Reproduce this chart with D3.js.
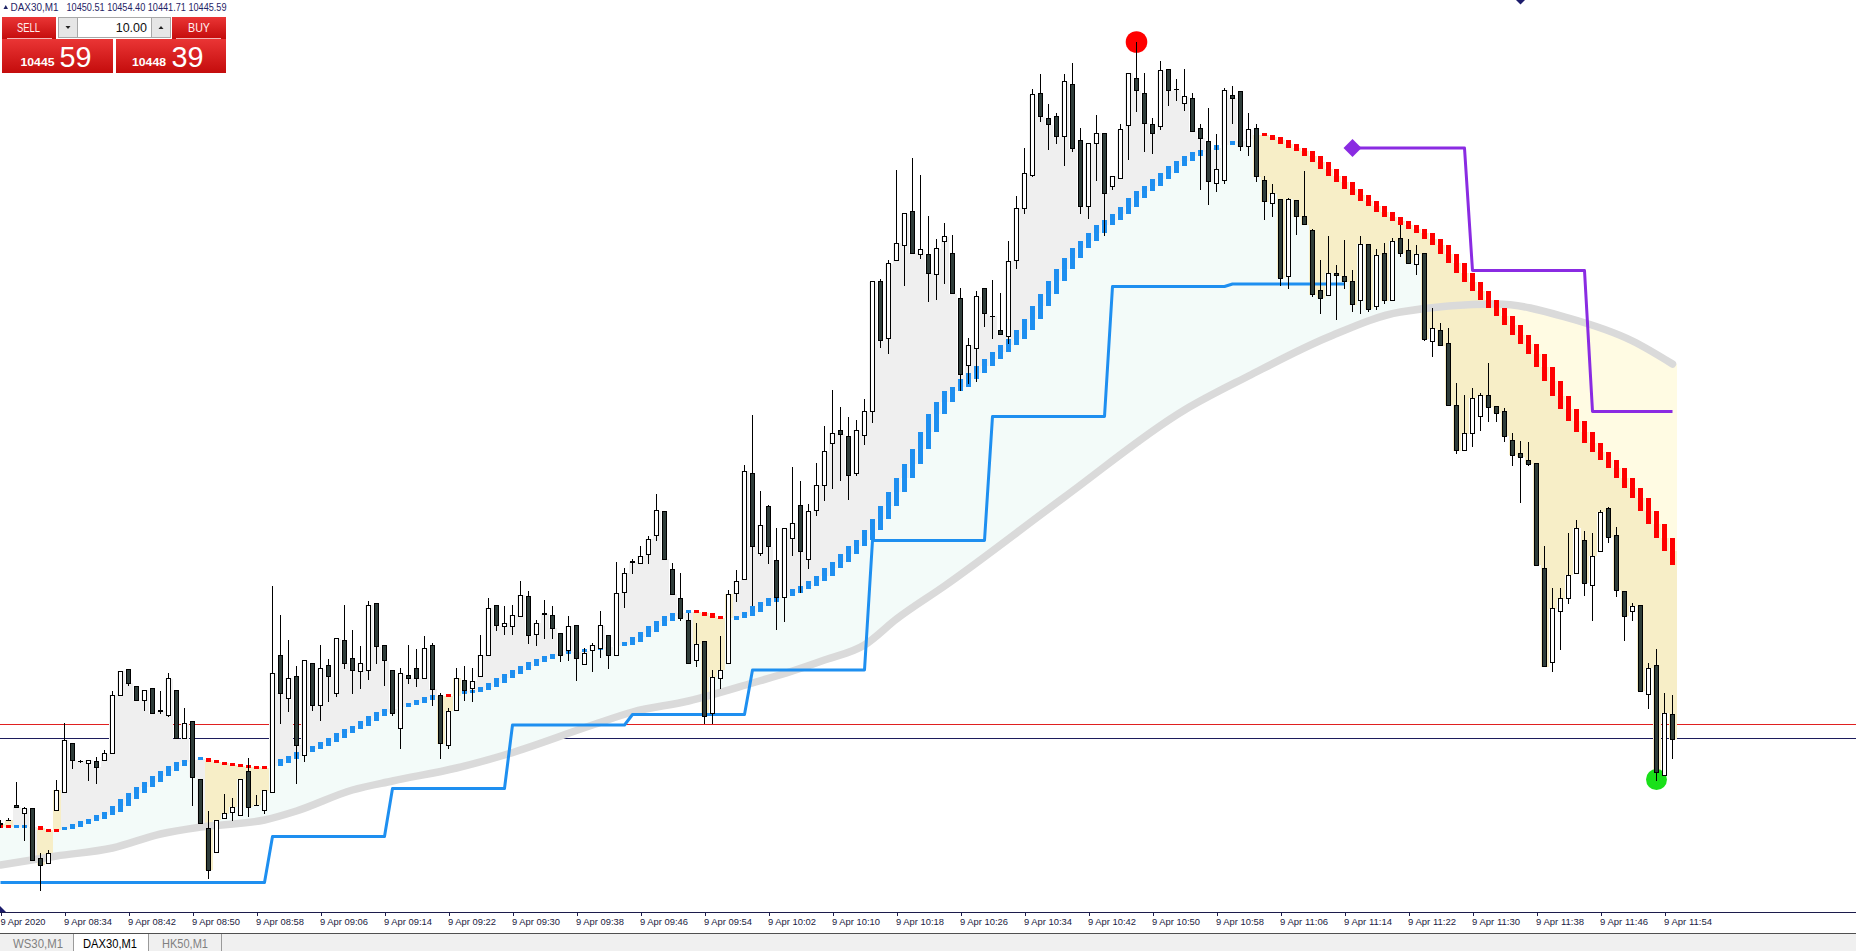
<!DOCTYPE html>
<html><head><meta charset="utf-8">
<script src="https://cdn.jsdelivr.net/npm/d3@7"></script>
<style>
html,body{margin:0;padding:0;background:#fff;overflow:hidden}
svg{display:block}
text{font-family:"Liberation Sans",Arial,sans-serif}
</style></head><body>
<svg id="c" width="1856" height="951"></svg>
<script>
// ---------------- DATA ----------------
const symbol = "DAX30,M1";
const startTime = "2020-04-09T08:26:00";
const bidPrice = 10445.59, askPrice = 10448.39;
const lotSize = "10.00";
const tabs = ["WS30,M1", "DAX30,M1", "HK50,M1"];
const tickTimes = ["08:26","08:34","08:42","08:50","08:58","09:06","09:14","09:22","09:30","09:38","09:46","09:54","10:02","10:10","10:18","10:26","10:34","10:42","10:50","10:58","11:06","11:14","11:22","11:30","11:38","11:46","11:54"];
const tickLabels = ["9 Apr 2020","9 Apr 08:34","9 Apr 08:42","9 Apr 08:50","9 Apr 08:58","9 Apr 09:06","9 Apr 09:14","9 Apr 09:22","9 Apr 09:30","9 Apr 09:38","9 Apr 09:46","9 Apr 09:54","9 Apr 10:02","9 Apr 10:10","9 Apr 10:18","9 Apr 10:26","9 Apr 10:34","9 Apr 10:42","9 Apr 10:50","9 Apr 10:58","9 Apr 11:06","9 Apr 11:14","9 Apr 11:22","9 Apr 11:30","9 Apr 11:38","9 Apr 11:46","9 Apr 11:54"];

const open = [
10428.8,10429.3,10432.3,10430.6,10431.6,10421.6,10420.6,10431.4,10435.0,10444.8,
10441.1,10440.8,10441.0,10441.4,10442.8,10454.2,10459.5,10456.1,10453.2,10455.7,
10451.2,10450.3,10455.3,10445.8,10449.0,10437.5,10427.8,10423.0,10429.6,10431.0,
10430.3,10439.1,10432.4,10431.4,10435.0,10462.4,10453.6,10458.0,10442.3,10460.6,
10452.4,10460.2,10454.8,10465.4,10461.8,10459.0,10459.4,10472.8,10464.3,10459.4,
10447.6,10458.4,10459.6,10457.6,10464.3,10454.3,10444.4,10451.4,10457.4,10455.6,
10458.0,10462.4,10472.2,10468.0,10468.1,10470.1,10474.1,10466.5,10470.6,10470.3,
10466.8,10463.4,10468.3,10460.5,10463.3,10463.6,10466.2,10462.4,10474.9,10480.9,
10480.8,10482.5,10486.2,10491.0,10479.5,10473.8,10469.2,10461.3,10465.1,10450.8,
10457.6,10460.6,10474.7,10477.5,10498.7,10482.6,10492.1,10481.3,10473.9,10485.8,
10492.3,10481.5,10491.2,10496.2,10504.8,10507.2,10506.1,10498.6,10506.2,10511.0,
10537.0,10525.8,10541.3,10544.2,10551.0,10542.5,10542.4,10538.4,10545.0,10542.8,
10533.6,10520.2,10523.6,10535.8,10530.1,10527.3,10526.0,10541.2,10551.8,10558.3,
10574.8,10569.6,10570.1,10566.0,10576.5,10565.3,10552.0,10564.6,10566.8,10556.0,
10557.8,10568.2,10577.6,10574.8,10568.4,10568.0,10579.4,10575.5,10572.8,10573.8,
10567.6,10565.0,10556.6,10557.3,10574.3,10575.1,10564.1,10567.6,10557.3,10552.6,
10553.4,10538.0,10553.3,10550.1,10547.3,10535.3,10534.2,10538.6,10538.1,10537.1,
10533.2,10544.4,10532.0,10542.6,10533.2,10545.6,10543.3,10540.4,10542.6,10525.0,
10527.3,10524.8,10512.3,10503.4,10506.7,10510.0,10514.2,10512.1,10511.0,10505.2,
10502.6,10501.4,10500.7,10479.8,10460.9,10471.0,10473.6,10478.6,10485.2,10476.3,
10483.0,10491.6,10486.3,10475.0,10471.0,10472.4,10454.5,10460.3,10438.3,10450.51];
const high = [
10429.4,10429.6,10437.0,10432.0,10431.6,10422.6,10423.3,10437.3,10448.6,10444.8,
10441.3,10441.4,10442.0,10443.4,10455.1,10459.1,10459.5,10456.1,10455.3,10455.7,
10455.1,10458.8,10455.3,10451.8,10449.0,10437.5,10431.1,10429.4,10434.5,10433.6,
10437.5,10441.6,10434.3,10435.4,10476.1,10470.3,10465.3,10460.0,10461.2,10460.6,
10464.3,10461.5,10465.6,10472.3,10467.3,10464.1,10473.1,10472.8,10464.3,10459.4,
10459.8,10464.3,10463.5,10466.1,10464.6,10454.6,10451.8,10459.6,10460.0,10459.6,
10466.3,10473.6,10472.2,10472.1,10472.3,10477.1,10475.1,10469.4,10473.4,10472.1,
10466.8,10470.1,10468.4,10463.8,10464.6,10471.0,10466.2,10480.9,10479.7,10481.5,
10484.0,10486.0,10494.5,10491.0,10480.8,10478.6,10470.8,10468.6,10465.1,10459.3,
10466.0,10475.4,10479.2,10500.3,10510.4,10495.1,10492.3,10487.7,10487.6,10499.9,
10497.1,10492.5,10500.6,10508.0,10515.4,10511.9,10509.9,10509.3,10513.5,10537.0,
10537.4,10541.3,10559.2,10550.6,10561.8,10558.3,10550.1,10545.5,10548.8,10546.2,
10535.8,10525.8,10535.0,10535.8,10537.2,10534.8,10545.0,10554.1,10563.8,10575.4,
10578.5,10572.5,10570.8,10578.5,10580.8,10567.8,10564.6,10570.3,10566.8,10558.1,
10568.4,10578.8,10584.9,10578.6,10569.8,10581.0,10579.4,10577.4,10579.4,10574.6,
10568.5,10571.8,10566.5,10575.7,10576.1,10575.1,10570.6,10568.5,10558.1,10556.5,
10553.4,10553.6,10553.3,10559.1,10547.4,10541.3,10546.0,10540.3,10545.3,10539.3,
10546.1,10544.4,10543.4,10544.8,10545.6,10548.3,10545.4,10544.3,10542.6,10531.6,
10528.6,10527.6,10516.6,10514.3,10515.7,10514.7,10520.7,10512.1,10511.7,10506.8,
10505.1,10504.9,10500.7,10484.0,10475.6,10475.6,10486.6,10489.4,10487.0,10486.6,
10491.4,10491.9,10487.9,10475.0,10472.8,10472.4,10460.7,10463.5,10454.8,10454.40];
const low = [
10428.0,10429.2,10431.9,10425.3,10421.3,10415.3,10420.6,10431.4,10435.0,10439.6,
10440.9,10437.2,10436.8,10441.4,10442.6,10454.2,10456.2,10453.2,10451.3,10450.6,
10450.6,10450.1,10445.6,10445.8,10432.4,10428.6,10417.8,10423.0,10429.6,10429.2,
10430.3,10430.1,10432.2,10430.8,10435.0,10448.6,10451.0,10436.8,10441.0,10451.2,
10449.4,10453.0,10454.0,10459.8,10454.8,10455.8,10457.5,10460.8,10456.3,10450.4,
10443.6,10456.6,10456.0,10457.6,10452.4,10441.8,10443.8,10451.4,10453.3,10453.0,
10458.0,10462.4,10467.4,10466.5,10466.5,10470.1,10464.8,10464.4,10465.8,10465.6,
10461.0,10461.4,10457.4,10460.5,10459.0,10461.9,10459.7,10462.4,10471.9,10478.6,
10480.6,10480.6,10485.2,10481.5,10474.5,10469.3,10460.8,10460.1,10448.6,10448.6,
10455.6,10460.6,10473.0,10477.5,10472.3,10482.3,10480.6,10467.5,10469.0,10482.3,
10474.9,10479.7,10490.4,10493.4,10495.6,10497.3,10493.5,10498.2,10504.5,10508.9,
10523.9,10522.6,10541.3,10536.3,10542.8,10541.6,10533.0,10533.4,10536.8,10534.6,
10515.3,10516.6,10517.0,10528.0,10525.8,10526.4,10524.8,10539.8,10550.6,10558.0,
10569.0,10563.4,10564.6,10560.2,10563.0,10550.6,10549.6,10557.3,10546.3,10555.4,
10557.8,10561.4,10571.0,10563.0,10562.6,10567.4,10572.3,10573.2,10571.3,10567.1,
10555.4,10552.4,10555.0,10556.7,10568.6,10563.3,10562.3,10557.0,10549.4,10550.1,
10536.3,10535.6,10546.4,10548.4,10534.0,10530.8,10534.2,10529.5,10535.6,10531.1,
10530.8,10531.1,10531.5,10532.6,10533.2,10542.1,10540.6,10538.4,10525.3,10522.0,
10524.2,10512.3,10502.8,10503.4,10504.0,10507.2,10509.1,10509.1,10505.1,10500.4,
10492.9,10500.4,10480.3,10460.0,10459.1,10463.5,10472.6,10478.6,10474.2,10469.3,
10483.0,10484.9,10474.0,10465.2,10469.3,10455.1,10451.7,10437.4,10438.3,10441.71];
const close = [
10428.5,10429.4,10431.9,10431.6,10421.3,10420.3,10422.6,10435.3,10445.3,10441.4,
10441.1,10441.4,10440.0,10442.6,10454.4,10459.1,10456.8,10453.4,10455.3,10450.6,
10451.1,10457.6,10445.6,10448.6,10438.0,10428.6,10419.3,10429.4,10430.6,10432.0,
10437.5,10432.0,10432.3,10435.2,10458.8,10454.8,10457.8,10444.4,10461.2,10452.2,
10459.6,10458.0,10465.6,10460.8,10459.4,10460.6,10472.3,10464.0,10461.2,10450.8,
10458.6,10457.8,10457.8,10463.6,10455.5,10444.6,10451.1,10457.8,10455.2,10457.1,
10462.3,10471.8,10468.2,10468.8,10470.4,10474.4,10466.2,10468.8,10470.5,10467.8,
10462.3,10468.1,10461.6,10462.8,10464.3,10468.2,10462.3,10474.7,10478.8,10481.0,
10482.1,10485.5,10491.2,10481.5,10474.5,10469.8,10460.8,10464.5,10450.1,10457.9,
10459.3,10474.5,10477.1,10499.1,10484.1,10488.4,10484.0,10473.9,10487.6,10488.8,
10483.0,10491.0,10496.3,10503.0,10506.8,10506.5,10498.2,10507.4,10511.0,10537.0,
10525.2,10540.6,10544.8,10550.6,10542.8,10543.4,10538.8,10543.6,10546.0,10534.6,
10518.4,10524.3,10534.0,10530.6,10530.1,10526.4,10541.1,10551.8,10558.6,10574.4,
10570.0,10568.4,10566.0,10577.0,10563.6,10552.0,10564.6,10566.8,10554.8,10558.1,
10567.4,10578.8,10575.2,10568.8,10566.6,10579.2,10575.2,10575.4,10574.0,10567.1,
10565.8,10557.0,10559.4,10575.3,10573.8,10564.0,10567.4,10558.0,10553.0,10554.6,
10537.8,10553.5,10550.0,10548.4,10534.4,10533.8,10538.8,10538.2,10537.0,10532.4,
10544.5,10531.5,10542.3,10533.2,10545.1,10542.8,10540.8,10542.5,10525.5,10527.6,
10524.2,10512.3,10503.2,10506.6,10513.7,10514.2,10511.9,10510.8,10506.1,10502.4,
10501.9,10500.5,10480.3,10460.0,10471.6,10473.6,10478.4,10487.7,10476.8,10482.1,
10490.9,10485.9,10475.4,10470.1,10472.1,10455.1,10459.8,10439.0,10450.8,10445.59];

// trailing stop value per bar and its direction runs (u = up / blue, d = down / red)
const stopLine = [
10428.0,10428.0,10428.0,10428.0,10428.0,10427.7,10427.3,10427.3,10427.6,10427.9,
10428.5,10429.1,10429.6,10430.3,10431.0,10432.1,10433.5,10434.7,10435.9,10437.0,
10438.1,10439.1,10440.1,10440.9,10441.4,10441.6,10441.4,10441.0,10440.7,10440.4,
10440.2,10440.0,10439.9,10439.8,10440.1,10440.7,10441.5,10442.1,10442.9,10443.5,
10444.1,10444.9,10445.8,10446.7,10447.5,10448.2,10449.1,10450.2,10451.0,10451.6,
10452.0,10452.3,10452.8,10453.4,10453.9,10454.1,10454.2,10454.2,10454.8,10455.0,
10455.4,10456.0,10456.8,10457.7,10458.6,10459.4,10460.2,10461.0,10461.5,10462.1,
10462.5,10462.8,10463.0,10463.2,10463.4,10463.6,10463.9,10464.1,10464.4,10465.0,
10466.0,10466.9,10468.1,10469.1,10470.2,10470.7,10471.0,10471.0,10470.8,10470.2,
10469.8,10469.7,10469.7,10470.1,10471.0,10472.1,10472.9,10473.7,10474.2,10474.8,
10475.5,10476.2,10477.2,10478.2,10479.7,10481.0,10482.6,10484.1,10485.3,10487.3,
10489.5,10492.1,10494.9,10497.7,10500.6,10503.6,10506.9,10510.5,10512.9,10515.2,
10516.0,10517.5,10518.7,10520.2,10521.6,10522.9,10524.3,10525.6,10527.4,10529.6,
10532.1,10534.6,10537.2,10539.5,10541.8,10543.7,10545.1,10546.7,10548.3,10549.4,
10550.6,10552.0,10553.7,10555.1,10556.2,10557.5,10558.7,10560.1,10561.2,10562.2,
10562.9,10563.4,10563.7,10564.3,10564.8,10565.2,10565.5,10566.4,10566.4,10566.0,
10565.4,10564.6,10563.7,10563.1,10562.2,10561.0,10559.6,10558.2,10556.9,10555.6,
10554.4,10553.2,10552.1,10550.9,10550.0,10549.1,10548.4,10547.5,10546.7,10545.5,
10544.3,10542.5,10540.8,10538.8,10537.0,10535.1,10533.4,10531.7,10530.1,10528.4,
10526.4,10524.6,10522.6,10520.0,10517.2,10514.1,10511.5,10509.1,10506.9,10504.8,
10503.0,10501.4,10499.7,10497.8,10495.8,10493.7,10491.2,10488.6,10485.8,10483.1];
const trendRuns = [["d",2],["u",3],["d",3],["u",18],["d",8],["u",21],["d",3],["u",29],["d",5],["u",65],["d",53]];

// slow moving average, read at these bar indices
const maIndex = [0,7,14,20,25,33,37,44,49,57,63,74,79,86,94,99,103,108,112,118,133,148,156,166,175,187,196,204,209];
const maValue = [10420.3,10422.1,10423.7,10426.5,10427.9,10429.3,10431.1,10435.3,10437.1,10439.7,10442.3,10448.3,10450.9,10453.1,10456.7,10459.1,10461.3,10464.3,10469.5,10476.1,10493.9,10511.3,10518.1,10525.9,10530.9,10532.5,10529.7,10525.1,10520.5];

// 15-minute support levels (blue) and resistance levels (purple): [first bar, last bar, price]
const supportLevels = [[0,33,10416.8],[34,48,10426.0],[49,63,10435.6],[64,78,10448.3],[79,93,10450.4],[94,108,10459.3],[109,123,10485.2],[124,138,10510.0],[139,153,10536.0],[154,168,10536.5]];
const resistLevels = [[169,183,10563.7],[184,198,10539.2],[199,209,10511.0]];

// swing markers
const swingHighBar = 142, swingLowBar = 207;

// ---------------- CHART ----------------
const W = 1856, H = 951;
const svg = d3.select("#c");
const n = open.length;
const t0 = new Date(startTime);
const barTime = d3.range(n).map(i => d3.timeMinute.offset(t0, i));
const x = d3.scaleTime().domain([t0, d3.timeMinute.offset(t0, 232)]).range([0.5, 1856.5]);
const y = d3.scaleLinear().domain([10410.84, 10593.3]).range([912.3, 0]);
const X = i => x(barTime[i]);
const trend = [];
trendRuns.forEach(([t, k]) => { for (let j = 0; j < k; j++) trend.push(t); });
const maAt = d3.scaleLinear().domain(maIndex).range(maValue);
const bars = d3.range(n).map(i => ({i, o: open[i], h: Math.max(high[i], open[i], close[i]), l: Math.min(low[i], open[i], close[i]), c: close[i], s: stopLine[i], t: trend[i], ma: maAt(i)}));

svg.append("rect").attr("width", W).attr("height", H).attr("fill", "#fff");

// bid / ask lines
const gLines = svg.append("g").attr("shape-rendering", "crispEdges");
gLines.append("line").attr("x1", 0).attr("x2", W).attr("y1", Math.floor(y(askPrice)) + 0.5).attr("y2", Math.floor(y(askPrice)) + 0.5).attr("stroke", "#e02020").attr("stroke-width", 1);
gLines.append("line").attr("x1", 0).attr("x2", W).attr("y1", Math.floor(y(bidPrice)) + 0.5).attr("y2", Math.floor(y(bidPrice)) + 0.5).attr("stroke", "#1c1c5c").attr("stroke-width", 1);

// cloud between close and moving average
svg.append("g").attr("shape-rendering", "crispEdges").selectAll("rect").data(bars).join("rect")
  .attr("x", d => X(d.i) - 4).attr("width", 8)
  .attr("y", d => Math.min(y(d.c), y(d.ma))).attr("height", d => Math.abs(y(d.c) - y(d.ma)))
  .attr("fill", d => d.c >= d.ma ? "#f3fbf9" : "#fffbe3");

// band between trailing stop and close
svg.append("g").attr("shape-rendering", "crispEdges").selectAll("rect").data(bars).join("rect")
  .attr("x", d => X(d.i) - 4).attr("width", 8)
  .attr("y", d => Math.min(y(d.c), y(d.s))).attr("height", d => Math.abs(y(d.c) - y(d.s)))
  .attr("fill", d => d.t === "u" ? "#efefef" : "#f7eec7");

// moving average
svg.append("path").datum(maIndex.map((m, k) => [m, maValue[k]]))
  .attr("d", d3.line().x(d => X(d[0])).y(d => y(d[1])).curve(d3.curveMonotoneX))
  .attr("fill", "none").attr("stroke", "#dadada").attr("stroke-width", 7.5).attr("stroke-linecap", "round");

// support / resistance step lines
function levelPts(levels) {
  const pts = [];
  levels.forEach(([a, b, v]) => { for (let i = a; i <= b; i++) pts.push([i, v]); });
  return pts;
}
const stepLine = d3.line().x(d => X(d[0])).y(d => y(d[1]));
svg.append("path").datum(levelPts(supportLevels)).attr("d", stepLine)
  .attr("fill", "none").attr("stroke", "#1e8ff0").attr("stroke-width", 3).attr("stroke-linejoin", "round");
svg.append("path").datum(levelPts(resistLevels)).attr("d", stepLine)
  .attr("fill", "none").attr("stroke", "#8a2be2").attr("stroke-width", 3).attr("stroke-linejoin", "round");

// trailing stop dots
const dots = bars.map(d => {
  const i = d.i;
  const prev = (i > 0 && trend[i - 1] === d.t) ? stopLine[i - 1] : null;
  const next = (i < n - 1 && trend[i + 1] === d.t) ? stopLine[i + 1] : null;
  let a, b;
  if (prev !== null && next !== null) { a = prev; b = next; }
  else if (prev !== null) { a = prev; b = 2 * d.s - prev; }
  else if (next !== null) { a = 2 * d.s - next; b = next; }
  else { a = b = d.s; }
  let y1 = Math.min(y(a), y(b)), hh = Math.abs(y(a) - y(b));
  if (hh < 3) { y1 = y(d.s) - 1.5; hh = 3; }
  return {i, y1, hh, t: d.t};
});
svg.append("g").attr("shape-rendering", "crispEdges").selectAll("rect").data(dots).join("rect")
  .attr("x", d => X(d.i) - 2.5).attr("width", 5).attr("y", d => d.y1).attr("height", d => d.hh)
  .attr("fill", d => d.t === "u" ? "#1e8ff0" : "#ff0000");

// swing high / low markers
svg.append("circle").attr("cx", X(swingHighBar)).attr("cy", y(high[swingHighBar])).attr("r", 10.8).attr("fill", "#ff0000");
svg.append("circle").attr("cx", X(swingLowBar)).attr("cy", y(low[swingLowBar])).attr("r", 10.5).attr("fill", "#19e019");

// candles
const gC = svg.append("g").attr("shape-rendering", "crispEdges");
const cs = gC.selectAll("g").data(bars).join("g");
cs.append("line").attr("x1", d => X(d.i)).attr("x2", d => X(d.i))
  .attr("y1", d => Math.round(y(d.h))).attr("y2", d => Math.round(y(d.l)) + 1).attr("stroke", "#000").attr("stroke-width", 1);
cs.append("rect").attr("x", d => X(d.i) - 2.5).attr("width", 5)
  .attr("y", d => Math.round(y(Math.max(d.o, d.c))))
  .attr("height", d => Math.max(1, Math.round(y(Math.min(d.o, d.c))) - Math.round(y(Math.max(d.o, d.c))) + 1))
  .attr("fill", "#000");
cs.filter(d => Math.round(y(Math.min(d.o, d.c))) - Math.round(y(Math.max(d.o, d.c))) > 1).append("rect")
  .attr("x", d => X(d.i) - 1.5).attr("width", 3)
  .attr("y", d => Math.round(y(Math.max(d.o, d.c))) + 1)
  .attr("height", d => Math.round(y(Math.min(d.o, d.c))) - Math.round(y(Math.max(d.o, d.c))) - 1)
  .attr("fill", d => d.c > d.o ? "#fff" : "#2f3d3a");

// resistance start diamond
const r0 = resistLevels[0];
svg.append("path").attr("transform", `translate(${X(r0[0])},${y(r0[2])})`)
  .attr("d", "M0,-9L9,0L0,9L-9,0Z").attr("fill", "#8a2be2");
// navy marker at top edge
svg.append("path").attr("transform", `translate(${x(d3.timeMinute.offset(t0, 190.6))},${y(10593.6)})`)
  .attr("d", "M0,-6L6,0L0,6L-6,0Z").attr("fill", "#1c1c6c");

// time axis
const tickDates = tickTimes.map(s => new Date(startTime.slice(0, 11) + s + ":00"));
const gAx = svg.append("g").attr("transform", "translate(0,912)");
gAx.append("line").attr("x1", 0).attr("x2", W).attr("y1", 0.5).attr("y2", 0.5).attr("stroke", "#1c1c4c").attr("shape-rendering", "crispEdges");
const axis = d3.axisBottom(x).tickValues(tickDates).tickFormat((d, k) => tickLabels[k]).tickSize(4).tickSizeOuter(0);
gAx.call(axis);
gAx.select(".domain").remove();
gAx.selectAll(".tick line").attr("stroke", "#1c1c4c").attr("shape-rendering", "crispEdges");
gAx.selectAll(".tick text").attr("text-anchor", "start").attr("x", (d, k) => k === 0 ? -0.5 : -1).attr("y", 13).attr("dy", 0)
  .attr("font-size", 9).attr("fill", "#1a1a40").attr("font-family", "Liberation Sans, Arial, sans-serif")
  .attr("textLength", (d, k) => k === 0 ? 45 : 48).attr("lengthAdjust", "spacingAndGlyphs");
// bottom-left triangle
svg.append("path").attr("d", "M0,906L6,912L0,912Z").attr("fill", "#1c1c6c");

// tab bar
svg.append("rect").attr("x", 0).attr("y", 934).attr("width", W).attr("height", 17).attr("fill", "#f0f0f0");
svg.append("line").attr("x1", 0).attr("x2", W).attr("y1", 933.5).attr("y2", 933.5).attr("stroke", "#505050").attr("shape-rendering", "crispEdges");
svg.append("rect").attr("x", 73).attr("y", 934).attr("width", 75).attr("height", 17).attr("fill", "#fff");
[73.5, 148.5, 221.5].forEach(xx => svg.append("line").attr("x1", xx).attr("x2", xx).attr("y1", 934).attr("y2", 951).attr("stroke", "#9a9a9a").attr("shape-rendering", "crispEdges"));
const tabX = [13, 83, 162], tabW = [50, 54, 46];
tabs.forEach((t, k) => svg.append("text").attr("x", tabX[k]).attr("y", 948).attr("font-size", 12)
  .attr("textLength", tabW[k]).attr("lengthAdjust", "spacingAndGlyphs")
  .attr("fill", k === 1 ? "#000" : "#808080").text(t));

// header
svg.append("path").attr("d", "M3.5,9L8,9L5.75,5Z").attr("fill", "#1f2466");
svg.append("text").attr("x", 10.5).attr("y", 10.5).attr("font-size", 10).attr("fill", "#1f2466")
  .attr("textLength", 48).attr("lengthAdjust", "spacingAndGlyphs").text(symbol);
svg.append("text").attr("x", 66.5).attr("y", 10.5).attr("font-size", 10).attr("fill", "#1f2466")
  .attr("textLength", 160).attr("lengthAdjust", "spacingAndGlyphs")
  .text([open[n - 1], high[n - 1], low[n - 1], close[n - 1]].map(v => v.toFixed(2)).join(" "));

// one-click trading panel
const defs = svg.append("defs");
const gr = defs.append("linearGradient").attr("id", "rg").attr("x1", 0).attr("x2", 0).attr("y1", 0).attr("y2", 1);
gr.append("stop").attr("offset", "0%").attr("stop-color", "#ea3535");
gr.append("stop").attr("offset", "100%").attr("stop-color", "#c40c0c");
const P = svg.append("g").attr("shape-rendering", "crispEdges");
P.append("rect").attr("x", 2).attr("y", 17).attr("width", 54).attr("height", 22).attr("fill", "url(#rg)");
P.append("rect").attr("x", 172).attr("y", 17).attr("width", 54).attr("height", 22).attr("fill", "url(#rg)");
P.append("rect").attr("x", 2).attr("y", 39).attr("width", 111).attr("height", 34).attr("fill", "url(#rg)");
P.append("rect").attr("x", 116).attr("y", 39).attr("width", 110).attr("height", 34).attr("fill", "url(#rg)");
P.append("line").attr("x1", 7).attr("x2", 52).attr("y1", 38.5).attr("y2", 38.5).attr("stroke", "#f3b5b5");
P.append("line").attr("x1", 176).attr("x2", 221).attr("y1", 38.5).attr("y2", 38.5).attr("stroke", "#f3b5b5");
P.append("rect").attr("x", 58.5).attr("y", 17.5).attr("width", 112).attr("height", 20).attr("fill", "#fff").attr("stroke", "#a8a8a8");
P.append("rect").attr("x", 58.5).attr("y", 17.5).attr("width", 19).attr("height", 20).attr("fill", "#e6e6e6").attr("stroke", "#a8a8a8");
P.append("rect").attr("x", 151.5).attr("y", 17.5).attr("width", 19).attr("height", 20).attr("fill", "#e6e6e6").attr("stroke", "#a8a8a8");
svg.append("path").attr("d", "M65.5,26L70.5,26L68,29Z").attr("fill", "#222");
svg.append("path").attr("d", "M158.5,29L163.5,29L161,26Z").attr("fill", "#222");
svg.append("text").attr("x", 147).attr("y", 32).attr("text-anchor", "end").attr("font-size", 12.5).attr("fill", "#111").text(lotSize);
svg.append("text").attr("x", 17).attr("y", 32).attr("font-size", 12).attr("fill", "#fff0f0").attr("textLength", 23).attr("lengthAdjust", "spacingAndGlyphs").text("SELL");
svg.append("text").attr("x", 188).attr("y", 32).attr("font-size", 12).attr("fill", "#fff0f0").attr("textLength", 22).attr("lengthAdjust", "spacingAndGlyphs").text("BUY");
function priceParts(p) { const s = p.toFixed(2); return [s.slice(0, s.length - 3), s.slice(-2)]; }
const bp = priceParts(bidPrice), ap = priceParts(askPrice);
svg.append("text").attr("x", 20.5).attr("y", 65.5).attr("font-size", 10).attr("font-weight", "bold").attr("fill", "#fff").attr("textLength", 34).attr("lengthAdjust", "spacingAndGlyphs").text(bp[0]);
svg.append("text").attr("x", 59.5).attr("y", 67).attr("font-size", 29).attr("fill", "#fff").attr("textLength", 32).attr("lengthAdjust", "spacingAndGlyphs").text(bp[1]);
svg.append("text").attr("x", 132).attr("y", 65.5).attr("font-size", 10).attr("font-weight", "bold").attr("fill", "#fff").attr("textLength", 34).attr("lengthAdjust", "spacingAndGlyphs").text(ap[0]);
svg.append("text").attr("x", 171.5).attr("y", 67).attr("font-size", 29).attr("fill", "#fff").attr("textLength", 32).attr("lengthAdjust", "spacingAndGlyphs").text(ap[1]);
</script></body></html>
